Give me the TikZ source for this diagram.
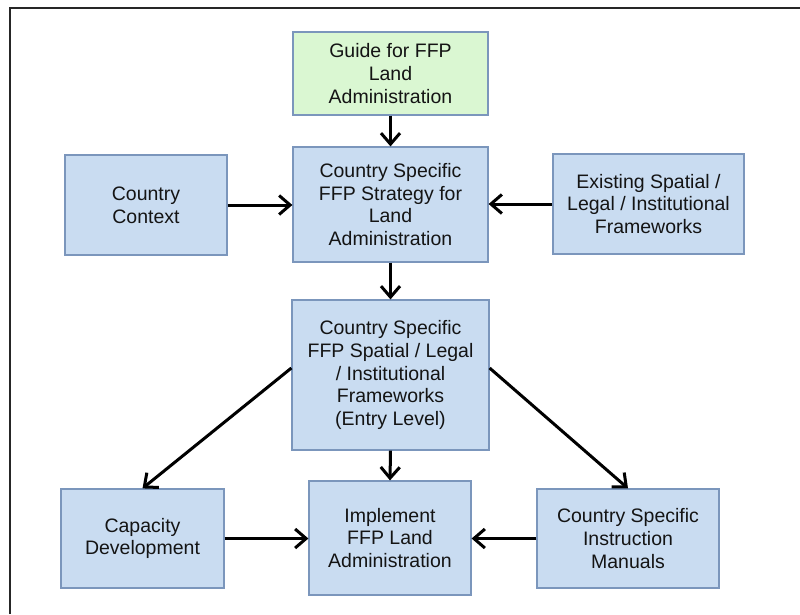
\documentclass[tikz,border=0pt]{standalone}
\usepackage{fontspec}
\setmainfont{Liberation Sans}
\usetikzlibrary{arrows.meta}
\definecolor{boxblue}{HTML}{C9DCF1}
\definecolor{boxgreen}{HTML}{DAF7D2}
\definecolor{boxline}{HTML}{7B96BC}
\definecolor{txt}{HTML}{141414}
\tikzset{
  box/.style={draw=boxline, line width=1.2pt, fill=boxblue, inner sep=0pt,
    align=center, text=txt, font=\fontsize{19.5}{22.7}\selectfont},
  greenbox/.style={box, fill=boxgreen},
  conn/.style={line width=3pt, draw=black,
    -{Straight Barb[length=11pt,width=19pt]}}
}
\begin{document}
\begin{tikzpicture}[x=1pt,y=-1pt]
\useasboundingbox (0,0) rectangle (800,614);
\draw[line width=1.3pt, draw=black!85] (10,614) -- (10,8) -- (800,8);

\node[greenbox, minimum width=195pt, minimum height=83pt] (guide) at (390.5,73.5)
  {Guide for FFP\\Land\\Administration};
\node[box, minimum width=195pt, minimum height=115pt] (strat) at (390.5,204.5)
  {Country Specific\\FFP Strategy for\\Land\\Administration};
\node[box, minimum width=162pt, minimum height=100pt] (ctx) at (146,205)
  {Country\\Context};
\node[box, minimum width=191pt, minimum height=100pt] (exist) at (648.5,204)
  {Existing Spatial /\\Legal / Institutional\\Frameworks};
\node[box, minimum width=197pt, minimum height=150pt] (spatial) at (390.5,375)
  {Country Specific\\FFP Spatial / Legal\\/ Institutional\\Frameworks\\(Entry Level)};
\node[box, minimum width=163pt, minimum height=99pt] (cap) at (142.5,538.5)
  {Capacity\\Development};
\node[box, minimum width=162pt, minimum height=114pt] (impl) at (390,538)
  {Implement\\FFP Land\\Administration};
\node[box, minimum width=182pt, minimum height=99pt] (instr) at (628,538.5)
  {Country Specific\\Instruction\\Manuals};

\draw[conn] (guide.south) -- (strat.north);
\draw[conn] (ctx.east) -- (ctx.east -| strat.west);
\draw[conn] (exist.west) -- (exist.west -| strat.east);
\draw[conn] (strat.south) -- (spatial.north);
\draw[conn] ([yshift=7pt]spatial.west) -- (cap.north);
\draw[conn] ([yshift=7pt]spatial.east) -- (instr.north);
\draw[conn] (spatial.south) -- (impl.north);
\draw[conn] (cap.east) -- (cap.east -| impl.west);
\draw[conn] (instr.west) -- (instr.west -| impl.east);
\end{tikzpicture}
\end{document}
